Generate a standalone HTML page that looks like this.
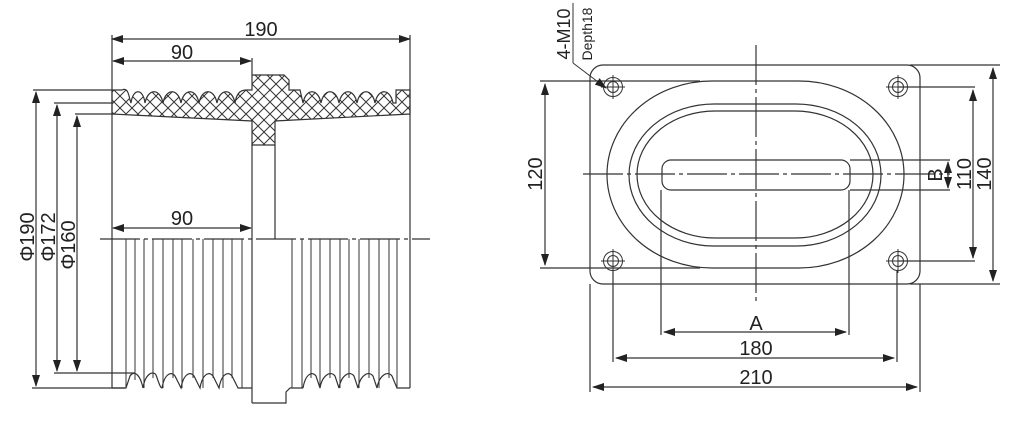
<!DOCTYPE html>
<html><head><meta charset="utf-8"><style>
html,body{margin:0;padding:0;background:#fff;width:1024px;height:433px;overflow:hidden}
svg{display:block}
text{font-family:"Liberation Sans","DejaVu Sans",sans-serif;fill:#222}
</style></head><body>
<svg width="1024" height="433" viewBox="0 0 1024 433" xmlns="http://www.w3.org/2000/svg">
<defs>
<pattern id="h" width="12" height="12" patternUnits="userSpaceOnUse">
<path d="M-3,-3 L15,15 M-3,15 L15,-3" stroke="#333" stroke-width="1"/>
</pattern>
<marker id="a" markerWidth="12" markerHeight="8" refX="11" refY="4" orient="auto-start-reverse" markerUnits="userSpaceOnUse">
<path d="M0,0 L12,4 L0,8 Z" fill="#222"/>
</marker>
</defs>
<g stroke="#333" stroke-width="1.2" fill="none">
<path d="M112,114 L112,90 L122,90 C126,88 128,90 130,100 L131,103 C133,88 143,88 145,103 C148,88 160,88 163,103 C166,88 178,88 181,103 C184,88 196,88 199,103 C202,88 214,88 217,103 C220,88 232,88 235,103 C236,96 239,90 246,90 L252,90 L252,75 L284,75 L289,80 L289,90 L300,90 L303,103 C306,88 318,88 321,103 C324,88 336,88 339,103 C342,88 354,88 357,103 C360,88 372,88 375,103 C378,88 390,88 393,103 L396,103 L396,90 L410,90 L410,114 L275,121 L275,145 L252,145 L252,121 Z" fill="url(#h)"/>
<line x1="112" y1="35" x2="112" y2="388"/>
<line x1="410" y1="35" x2="410" y2="388"/>
<line x1="252" y1="58" x2="252" y2="75"/>
<line x1="252" y1="145" x2="252" y2="403"/>
<line x1="275" y1="145" x2="275" y2="239"/>
<path d="M242,388 L252,388 M252,403 L286,403 L286,392 L290,388 L303,388"/>
<path d="M112,388 L126,388 L130,376 C134,370 140,374 143,388 C145,374 153,370 156,375 C158,380 160,388 162,388 C164,376 170,370 175,376 L181,388 C183,376 189,370 194,376 L200,388 C202,376 208,370 213,376 L219,388 C221,376 227,370 232,376 L238,388 L242,388"/>
<path d="M303,388 C305,376 311,370 316,376 L320,388 C322,376 330,370 335,376 L339,388 C341,376 349,370 354,376 L358,388 C360,376 368,370 373,376 L377,388 C379,376 387,370 392,376 L397,388 L410,388"/>
<g stroke-width="1">
<path d="M126,239V388 M135,239V380 M144,239V388 M153,239V378 M163,239V388 M173,239V378 M182,239V388 M193,239V378 M203,239V388 M213,239V378 M223,239V388 M232,239V378 M242,239V388"/>
<path d="M292,239V388 M302,239V388 M311,239V378 M320,239V388 M330,239V378 M340,239V388 M349,239V378 M359,239V388 M369,239V378 M379,239V388 M389,239V378 M397,239V388"/>
</g>
<line x1="100" y1="239" x2="430" y2="239" stroke-dasharray="40,4,4,4"/>
<line x1="112" y1="39" x2="410" y2="39" marker-start="url(#a)" marker-end="url(#a)"/>
<line x1="113" y1="61" x2="251" y2="61" marker-start="url(#a)" marker-end="url(#a)"/>
<line x1="113" y1="228" x2="251" y2="228" marker-start="url(#a)" marker-end="url(#a)"/>
<path d="M33,90H112 M54,103H112 M75,114H112 M32,388H125 M54,373H135"/>
<line x1="36" y1="92" x2="36" y2="386" marker-start="url(#a)" marker-end="url(#a)"/>
<line x1="57" y1="105" x2="57" y2="371" marker-start="url(#a)" marker-end="url(#a)"/>
<line x1="77" y1="116" x2="77" y2="371" marker-start="url(#a)" marker-end="url(#a)"/>

<rect x="590" y="65" width="330" height="219" rx="13"/>
<rect x="607" y="81" width="297" height="187" rx="105" ry="93.5"/>
<rect x="629" y="104" width="252" height="142" rx="85" ry="71"/>
<rect x="637" y="111" width="236" height="127" rx="78" ry="63.5"/>
<rect x="662" y="160" width="188" height="30" rx="9"/>
<g stroke-width="1">
<circle cx="613" cy="87" r="9.5"/><circle cx="613" cy="87" r="5.5"/>
<circle cx="898" cy="87" r="9.5"/><circle cx="898" cy="87" r="5.5"/>
<circle cx="613" cy="261" r="9.5"/><circle cx="613" cy="261" r="5.5"/>
<circle cx="898" cy="261" r="9.5"/><circle cx="898" cy="261" r="5.5"/>
<path d="M601,87H625 M613,75V99 M886,87H910 M898,75V99 M601,261H625 M613,249V273 M886,261H910 M898,249V273"/>
</g>
<line x1="583" y1="174" x2="950" y2="174" stroke-dasharray="40,4,4,4"/>
<line x1="756" y1="45" x2="756" y2="303" stroke-dasharray="40,4,4,4"/>
<path d="M540,81H700 M540,268H700 M898,87H975 M898,261H975 M910,65H1000 M910,284H1000 M850,160H950 M850,190H950"/>
<path d="M661,190V335 M849,190V335 M613,270V362 M897,270V362 M590,284V392 M920,284V392"/>
<line x1="545" y1="84" x2="545" y2="265" marker-start="url(#a)" marker-end="url(#a)"/>
<line x1="973" y1="90" x2="973" y2="258" marker-start="url(#a)" marker-end="url(#a)"/>
<line x1="993" y1="68" x2="993" y2="281" marker-start="url(#a)" marker-end="url(#a)"/>
<line x1="948" y1="162" x2="948" y2="188" marker-start="url(#a)" marker-end="url(#a)"/>
<line x1="664" y1="332" x2="846" y2="332" marker-start="url(#a)" marker-end="url(#a)"/>
<line x1="616" y1="358" x2="894" y2="358" marker-start="url(#a)" marker-end="url(#a)"/>
<line x1="593" y1="387" x2="917" y2="387" marker-start="url(#a)" marker-end="url(#a)"/>
<path d="M573,3V63" stroke-width="1"/>
<line x1="573" y1="63" x2="606" y2="88" marker-end="url(#a)" stroke-width="1"/>
</g>
<g font-size="20">
<text x="261" y="36" text-anchor="middle">190</text>
<text x="182" y="59" text-anchor="middle">90</text>
<text x="182" y="225" text-anchor="middle">90</text>
<text transform="translate(34,237) rotate(-90)" text-anchor="middle">Φ190</text>
<text transform="translate(55,237) rotate(-90)" text-anchor="middle">Φ172</text>
<text transform="translate(75,245) rotate(-90)" text-anchor="middle">Φ160</text>
<text transform="translate(542,174) rotate(-90)" text-anchor="middle">120</text>
<text transform="translate(971,174) rotate(-90)" text-anchor="middle">110</text>
<text transform="translate(991,174) rotate(-90)" text-anchor="middle">140</text>
<text transform="translate(942,175) rotate(-90)" text-anchor="middle">B</text>
<text x="756" y="330" text-anchor="middle">A</text>
<text x="756" y="355" text-anchor="middle">180</text>
<text x="756" y="384" text-anchor="middle">210</text>
<text transform="translate(570,34) rotate(-90)" text-anchor="middle" font-size="18">4-M10</text>
</g>
<text transform="translate(592,34) rotate(-90)" text-anchor="middle" font-size="14">Depth18</text>
</svg>
</body></html>
